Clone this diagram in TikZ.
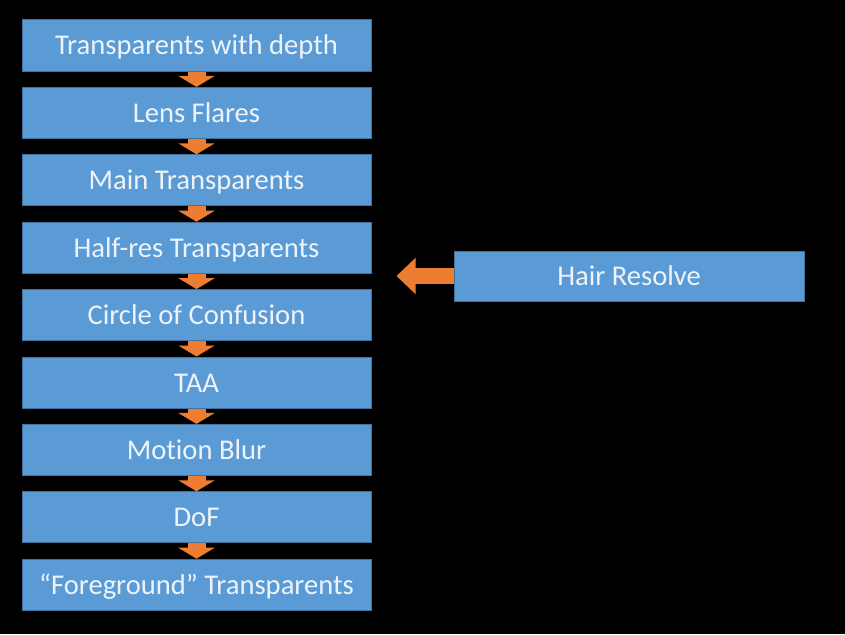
\documentclass[tikz,border=0pt]{standalone}
\usepackage{fontspec}
\setmainfont[RawFeature=-liga]{Carlito}
\usetikzlibrary{arrows.meta}
\definecolor{boxblue}{HTML}{5B9BD5}
\definecolor{boxedge}{HTML}{41719C}
\definecolor{arrorange}{HTML}{ED7D31}
\definecolor{txt}{HTML}{EEF3FA}
\tikzset{
  stage/.style={draw=boxedge, line width=1pt, fill=boxblue, minimum width=349pt, minimum height=51pt,
    inner sep=0pt, text=txt, font=\fontsize{28.6}{30}\selectfont, text height=24pt, text depth=5pt},
  downarrow/.style={draw=arrorange, line width=18pt, -{Triangle[width=36pt,length=11pt]}},
  leftarrow/.style={draw=arrorange, line width=16pt, -{Triangle[width=35pt,length=19pt]}}
}
\begin{document}
\begin{tikzpicture}[x=1pt,y=-1pt]
\fill[black] (0,0) rectangle (845,634);
\useasboundingbox (0,0) rectangle (845,634);
\node[stage] (s1) at (196.5,45.5) {Transparents with depth};
\node[stage] (s2) at (196.5,112.9) {Lens Flares};
\node[stage] (s3) at (196.5,180.3) {Main Transparents};
\node[stage] (s4) at (196.5,247.7) {Half-res Transparents};
\node[stage] (s5) at (196.5,315.1) {Circle of Confusion};
\node[stage] (s6) at (196.5,382.5) {TAA};
\node[stage] (s7) at (196.5,449.9) {Motion Blur};
\node[stage] (s8) at (196.5,517.3) {DoF};
\node[stage] (s9) at (196.5,584.7) {\char"201C Foreground\char"201D\ Transparents};
\node[stage, minimum width=350pt, minimum height=50pt] (hr) at (629,276) {Hair Resolve};
\foreach \a/\b in {s1/s2,s2/s3,s3/s4,s4/s5,s5/s6,s6/s7,s7/s8,s8/s9}
  \draw[downarrow] (\a.south) -- (\b.north);
\draw[leftarrow, shorten >=25pt] (hr.west) -- (s4.east |- hr.west);
\end{tikzpicture}
\end{document}
